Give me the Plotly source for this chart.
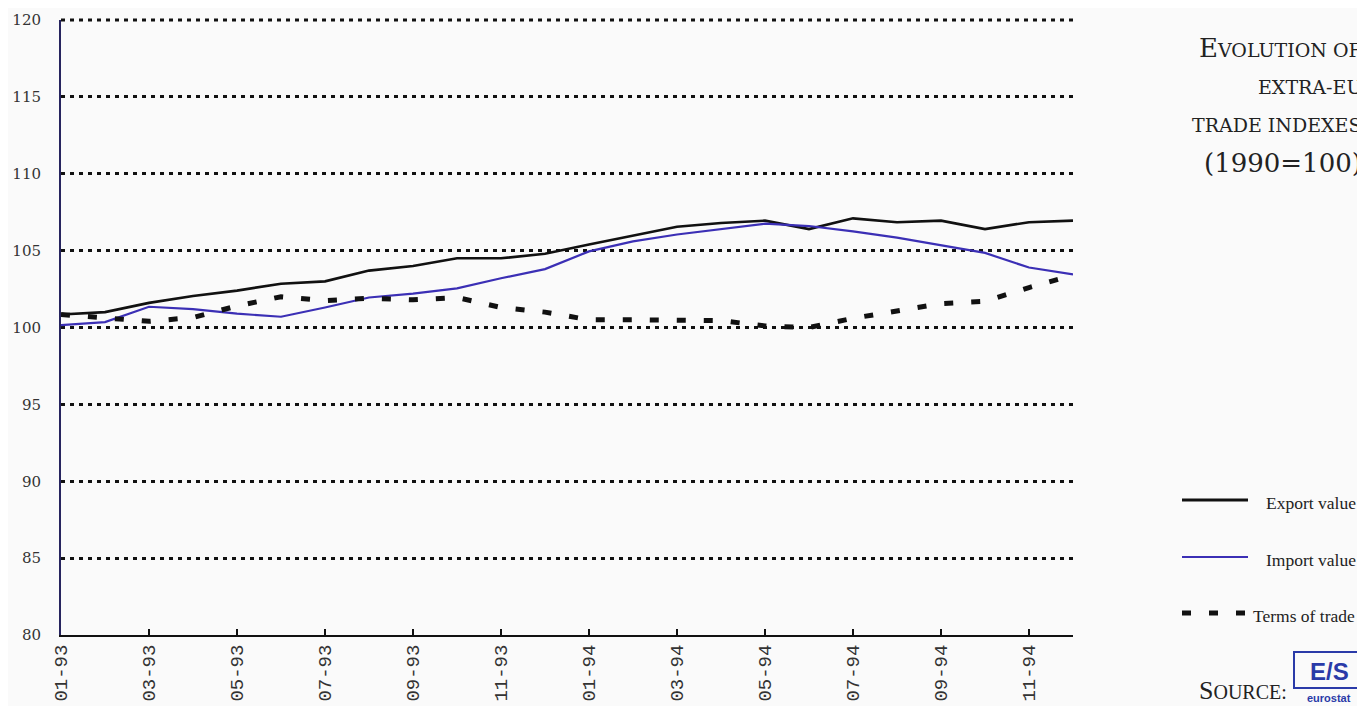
import plotly.graph_objects as go

months = ["01-93", "02-93", "03-93", "04-93", "05-93", "06-93", "07-93", "08-93",
          "09-93", "10-93", "11-93", "12-93", "01-94", "02-94", "03-94", "04-94",
          "05-94", "06-94", "07-94", "08-94", "09-94", "10-94", "11-94", "12-94"]
export_value = [100.85, 101.0, 101.6, 102.05, 102.4, 102.85, 103.0, 103.7, 104.0, 104.5, 104.5, 104.8,
                105.4, 106.0, 106.55, 106.8, 106.95, 106.4, 107.1, 106.85, 106.95, 106.4, 106.85, 106.95]
import_value = [100.15, 100.35, 101.35, 101.2, 100.9, 100.7, 101.3, 101.95, 102.2, 102.55, 103.2, 103.8,
                104.95, 105.6, 106.05, 106.4, 106.75, 106.6, 106.25, 105.85, 105.35, 104.85, 103.9, 103.45]
terms_of_trade = [100.85, 100.65, 100.4, 100.65, 101.4, 102.0, 101.75, 101.9, 101.8, 101.95, 101.3, 101.0,
                  100.5, 100.5, 100.5, 100.45, 100.1, 100.0, 100.6, 101.05, 101.55, 101.7, 102.6, 103.4]
y_ticks = [80, 85, 90, 95, 100, 105, 110, 115, 120]
series_names = ["Export value", "Import value", "Terms of trade"]

W, H = 1365, 706
OFF = 8  # page body margin
L, R, T, B = 61 - OFF, 1073 - OFF, 20 - OFF, 635 - OFF
Y_RANGE = [80, 120]


def px(x):
    return (x - OFF - L) / (R - L)


def py(y):
    return (B - (y - OFF)) / (B - T)


BLUE = "#3b2fb5"
SERIF = "Liberation Serif"
WSERIF = "DejaVu Serif"
GRID = dict(color="#111", width=3, dash="4px,5px")

fig = go.Figure()
fig.add_trace(go.Scatter(x=months, y=export_value, mode="lines", name=series_names[0],
                         line=dict(color="#111111", width=2.6)))
fig.add_trace(go.Scatter(x=months, y=import_value, mode="lines", name=series_names[1],
                         line=dict(color=BLUE, width=2.2)))
fig.add_trace(go.Scatter(x=months, y=terms_of_trade, mode="lines", name=series_names[2],
                         line=dict(color="#111111", width=5, dash="9px,18px")))

fig.update_layout(
    width=W, height=H,
    margin=dict(l=L, r=W - R, t=T, b=H - B, autoexpand=False),
    paper_bgcolor="#fafafa", plot_bgcolor="#fafafa",
    showlegend=False,
    font=dict(family=SERIF, color="#222222"),
)
fig.update_xaxes(
    type="category", range=[0, 23], automargin=False,
    tickvals=months[::2], ticktext=months[::2],
    tickangle=-90, ticks="inside", ticklen=6, tickwidth=1.5, tickcolor="#111",
    tickfont=dict(family="Liberation Mono", size=19, color="#333"),
    showline=True, linecolor="#111", linewidth=2,
    showgrid=False, zeroline=False,
)
fig.update_yaxes(
    range=Y_RANGE, automargin=False,
    tickvals=y_ticks, ticktext=[str(v) for v in y_ticks],
    tickfont=dict(family=WSERIF, size=15, color="#333"),
    ticklabelstandoff=15,
    showline=True, linecolor="#26245e", linewidth=2,
    showgrid=True, gridcolor=GRID["color"], gridwidth=GRID["width"], griddash=GRID["dash"],
    zeroline=False,
)
# top gridline (plotly skips the gridline lying on the plot edge)
top_frac = (max(y_ticks) - Y_RANGE[0]) / (Y_RANGE[1] - Y_RANGE[0])
fig.add_shape(type="line", xref="paper", yref="paper", x0=0, x1=1, y0=top_frac, y1=top_frac,
              line=GRID, layer="below")

# Title block (small caps, right aligned)
sc = 'style="font-size:19px"'
title_lines = [
    f'E<span {sc}>VOLUTION OF</span>',
    f'<span {sc}>EXTRA-EU</span>',
    f'<span {sc}>TRADE INDEXES</span>',
    '(1990=100)',
]
title_y = [48, 87, 125, 163]
for txt, yy in zip(title_lines, title_y):
    fig.add_annotation(text=txt, xref="paper", yref="paper", x=px(1364), y=py(yy),
                       xanchor="right", yanchor="middle", showarrow=False,
                       font=dict(family=WSERIF, size=26, color="#222"))

# Legend
leg_y = [500, 557, 613]
leg_style = [dict(color="#111", width=3), dict(color=BLUE, width=2), dict(color="#111", width=5, dash="9px,18px")]
leg_x1 = [1248, 1248, 1248]
leg_tx = [1264, 1264, 1251]
for name, yy, st, x1, tx in zip(series_names, leg_y, leg_style, leg_x1, leg_tx):
    fig.add_shape(type="line", xref="paper", yref="paper", x0=px(1182), x1=px(x1), y0=py(yy), y1=py(yy),
                  line=st)
    fig.add_annotation(text=name, xref="paper", yref="paper", x=px(tx), y=py(yy + 3),
                       xanchor="left", yanchor="middle", showarrow=False,
                       font=dict(family=SERIF, size=17.5, color="#222"))

# Source
fig.add_annotation(text=f'S<span style="font-size:20px">OURCE:</span>', xref="paper", yref="paper",
                   x=px(1197), y=py(690), xanchor="left", yanchor="middle", showarrow=False,
                   font=dict(family=SERIF, size=26, color="#222"))
fig.add_shape(type="rect", xref="paper", yref="paper", x0=px(1294), x1=px(1364), y0=py(652), y1=py(688),
              line=dict(color="#2a3aa8", width=2), fillcolor="#fafafa")
fig.add_annotation(text="<b>E/S</b>", xref="paper", yref="paper", x=px(1329), y=py(671),
                   xanchor="center", yanchor="middle", showarrow=False,
                   font=dict(family="Liberation Sans", size=24, color="#2a3aa8"))
fig.add_annotation(text="<b>eurostat</b>", xref="paper", yref="paper", x=px(1329), y=py(698),
                   xanchor="center", yanchor="middle", showarrow=False,
                   font=dict(family="Liberation Sans", size=11, color="#2a3aa8"))

fig.write_html("out.html")
